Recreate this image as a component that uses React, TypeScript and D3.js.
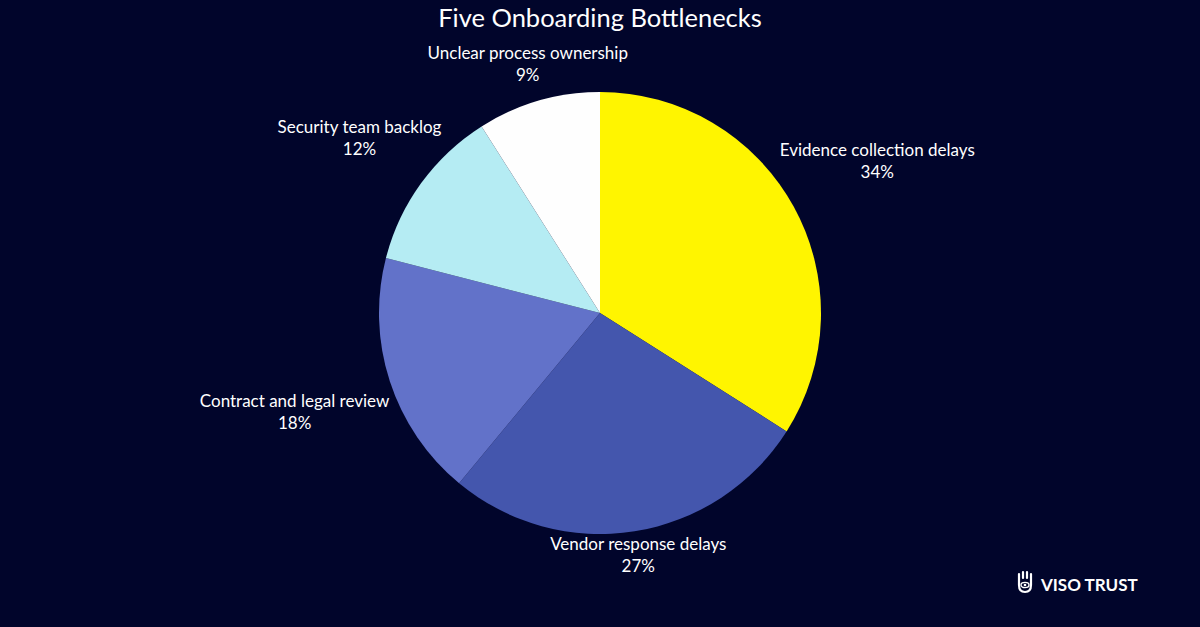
import { useEffect, useRef } from "react";
import * as d3 from "d3";

const categories = [
  "Evidence collection delays",
  "Vendor response delays",
  "Contract and legal review",
  "Security team backlog",
  "Unclear process ownership",
];
const shares = [34, 27, 18, 12, 9];
const sliceColors = ["#FFF500", "#4456AD", "#6272C9", "#B5ECF3", "#FEFEFE"];

const W = 1200;
const H = 627;
const BG = "#01052B";
const FONT = "Lato, 'Open Sans', sans-serif";

const App = () => {
  const svgRef = useRef<SVGSVGElement | null>(null);

  useEffect(() => {
    if (!svgRef.current) return;
    const svg = d3.select(svgRef.current);
    svg.selectAll("*").remove();

    svg.append("rect").attr("width", W).attr("height", H).attr("fill", BG);

    svg
      .append("text")
      .attr("x", W / 2)
      .attr("y", 27)
      .attr("text-anchor", "middle")
      .attr("fill", "#ffffff")
      .attr("font-family", FONT)
      .attr("font-size", 25.5)
      .text("Five Onboarding Bottlenecks");

    const cx = 600;
    const cy = 313;
    const r = 221;

    const data = categories.map((c, i) => ({ label: c, value: shares[i], color: sliceColors[i] }));
    const pie = d3
      .pie<{ label: string; value: number; color: string }>()
      .value((d) => d.value)
      .sort(null);
    const arcs = pie(data);
    const arc = d3
      .arc<d3.PieArcDatum<{ label: string; value: number; color: string }>>()
      .innerRadius(0)
      .outerRadius(r);

    const g = svg.append("g").attr("transform", `translate(${cx},${cy})`);
    g.selectAll("path")
      .data(arcs)
      .enter()
      .append("path")
      .attr("d", arc)
      .attr("fill", (d) => d.data.color);

    // labels sit on the slice's mid-angle ray, pushed out by half their width
    const labels = svg.append("g").attr("font-family", FONT).attr("font-size", 17).attr("fill", "#ffffff");
    arcs.forEach((a) => {
      const t = labels.append("text").attr("text-anchor", "middle");
      const l1 = t.append("tspan").text(a.data.label);
      const l2 = t.append("tspan").text(`${a.data.value}%`);
      const w = (l1.node() as SVGTSpanElement).getComputedTextLength();
      const mid = (a.startAngle + a.endAngle) / 2;
      const s = Math.sin(mid);
      const c = Math.cos(mid);
      const dist = r + 10 + (w / 2) * Math.abs(s);
      const x = cx + dist * s;
      const y = cy - dist * c;
      l1.attr("x", x).attr("y", y - 5);
      l2.attr("x", x).attr("y", y + 17);
    });

    // logo
    const logo = svg.append("g").attr("transform", "translate(1017,571)");
    logo
      .append("path")
      .attr(
        "d",
        "M2,8 L2,3 M6,7 L6,1 M10,7 L10,1 M14,8 L14,3 M2,8 L2,14 Q2,21 8,21 Q14,21 14,14 L14,8"
      )
      .attr("fill", "none")
      .attr("stroke", "#ffffff")
      .attr("stroke-width", 2.2)
      .attr("stroke-linecap", "round");
    logo
      .append("ellipse")
      .attr("cx", 8)
      .attr("cy", 14)
      .attr("rx", 4)
      .attr("ry", 2.6)
      .attr("fill", "none")
      .attr("stroke", "#ffffff")
      .attr("stroke-width", 1.4);
    logo.append("circle").attr("cx", 8).attr("cy", 14).attr("r", 1.3).attr("fill", "#ffffff");
    svg
      .append("text")
      .attr("x", 1041)
      .attr("y", 591)
      .attr("fill", "#ffffff")
      .attr("font-family", FONT)
      .attr("font-weight", 700)
      .attr("font-size", 17)
      .text("VISO TRUST");
  }, []);

  return (
    <div style={{ position: "fixed", top: 0, left: 0, width: W, height: H, overflow: "hidden" }}>
      <svg ref={svgRef} width={W} height={H} style={{ display: "block" }} />
    </div>
  );
};

export default App;
